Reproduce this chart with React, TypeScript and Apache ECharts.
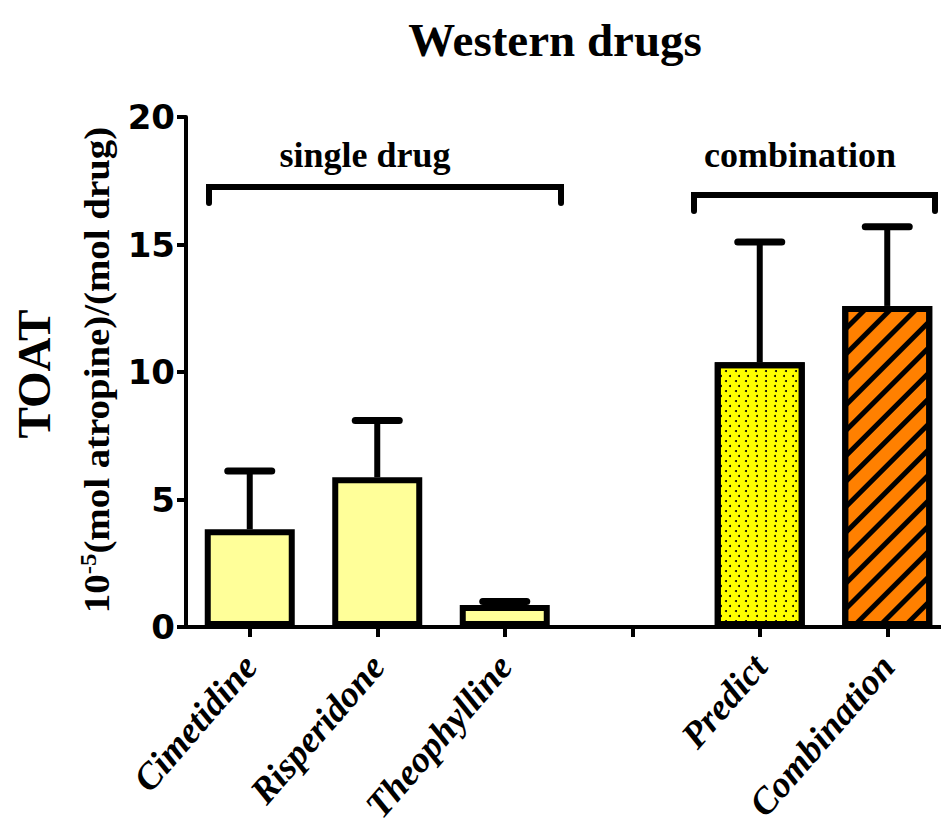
import React, { useEffect, useRef } from "react";
import * as echarts from "echarts";

const categories = ["Cimetidine", "Risperidone", "Theophylline", "", "Predict", "Combination"];
const means: (number | null)[] = [3.83, 5.87, 0.86, null, 10.38, 12.59];
const upperErr: (number | null)[] = [6.12, 8.1, 1.0, null, 15.1, 15.7];
const yTicks = [0, 5, 10, 15, 20];
const groupLabels = ["single drug", "combination"];
const titleText = "Western drugs";

const fills = ["#FFFF99", "#FFFF99", "#FFFF99", "#FFFFFF", "#FFFF00", "#FF8000"];

export default function App() {
  const ref = useRef<HTMLDivElement>(null);
  useEffect(() => {
    document.body.style.margin = "0";
    if (!ref.current) return;
    const chart = echarts.init(ref.current, null, { renderer: "svg" });

    const barData = means.map((v, i) => {
      if (v === null) return "-";
      const item: any = {
        value: v,
        itemStyle: { color: fills[i], borderColor: "#000", borderWidth: 6 },
      };
      if (i === 4) {
        item.itemStyle.decal = {
          symbol: "circle",
          symbolSize: 1,
          color: "#000",
          dashArrayX: [[2, 7], [0, 4.5, 2, 2.5]],
          dashArrayY: [2, 3],
        };
      }
      if (i === 5) {
        item.itemStyle.decal = {
          symbol: "rect",
          symbolSize: 1,
          color: "#000",
          dashArrayX: [1, 0],
          dashArrayY: [5, 13],
          rotation: -Math.PI / 4,
        };
      }
      return item;
    });

    const errData: number[][] = [];
    means.forEach((m, i) => {
      const u = upperErr[i];
      if (m !== null && u !== null) errData.push([i, m, u]);
    });

    const serif = "'Liberation Serif', 'Times New Roman', serif";
    const sans = "'DejaVu Sans', Arial, sans-serif";

    chart.setOption({
      animation: false,
      backgroundColor: "#fff",
      grid: { left: 186, top: 117, height: 510, width: 765, containLabel: false, outerBoundsMode: "none" },
      xAxis: {
        type: "category",
        data: categories,
        axisLine: { show: true, lineStyle: { color: "#000", width: 4 } },
        axisTick: { show: true, alignWithLabel: true, length: 10, lineStyle: { color: "#000", width: 4 } },
        axisLabel: {
          rotate: 49,
          margin: 33,
          padding: [34, 0, 0, 0],
          color: "#000",
          fontFamily: serif,
          fontStyle: "italic",
          fontWeight: "bold",
          fontSize: 37,
          interval: 0,
        },
        splitLine: { show: false },
      },
      yAxis: {
        type: "value",
        min: yTicks[0],
        max: yTicks[yTicks.length - 1],
        interval: 5,
        axisLine: { show: true, lineStyle: { color: "#000", width: 4 } },
        axisTick: { show: true, length: 9, lineStyle: { color: "#000", width: 4 } },
        axisLabel: { color: "#000", fontFamily: sans, fontWeight: "bold", fontSize: 34, margin: 11 },
        splitLine: { show: false },
      },
      series: [
        {
          type: "custom",
          z: 1,
          data: errData,
          encode: { x: 0, y: 1 },
          renderItem: (params: any, api: any) => {
            const i = api.value(0);
            const m = api.value(1);
            const u = api.value(2);
            const p0 = api.coord([i, m]);
            const p1 = api.coord([i, u]);
            return {
              type: "group",
              children: [
                {
                  type: "line",
                  shape: { x1: p0[0], y1: p0[1], x2: p1[0], y2: p1[1] },
                  style: { stroke: "#000", lineWidth: 6 },
                },
                {
                  type: "line",
                  shape: { x1: p1[0] - 22, y1: p1[1], x2: p1[0] + 22, y2: p1[1] },
                  style: { stroke: "#000", lineWidth: 7, lineCap: "round" },
                },
              ],
            };
          },
        },
        {
          type: "bar",
          z: 2,
          barWidth: 90,
          data: barData,
        },
      ],
      graphic: [
        {
          type: "text",
          x: 555,
          y: 40,
          style: {
            text: titleText,
            font: `bold 47px ${serif}`,
            fill: "#000",
            align: "center",
            verticalAlign: "middle",
          },
        },
        {
          type: "text",
          x: 365,
          y: 155,
          style: {
            text: groupLabels[0],
            font: `bold 36px ${serif}`,
            fill: "#000",
            align: "center",
            verticalAlign: "middle",
          },
        },
        {
          type: "text",
          x: 800,
          y: 155,
          style: {
            text: groupLabels[1],
            font: `bold 36px ${serif}`,
            fill: "#000",
            align: "center",
            verticalAlign: "middle",
          },
        },
        {
          type: "polyline",
          shape: { points: [[209, 203], [209, 187], [561, 187], [561, 203]] },
          style: { stroke: "#000", lineWidth: 6, fill: null, lineCap: "round" },
        },
        {
          type: "polyline",
          shape: { points: [[694, 211], [694, 195], [935, 195], [935, 211]] },
          style: { stroke: "#000", lineWidth: 6, fill: null, lineCap: "round" },
        },
        {
          type: "text",
          x: 34,
          y: 374,
          rotation: Math.PI / 2,
          style: {
            text: "TOAT",
            font: `bold 47px ${serif}`,
            fill: "#000",
            align: "center",
            verticalAlign: "middle",
          },
        },
        {
          type: "text",
          x: 97,
          y: 370,
          rotation: Math.PI / 2,
          scaleX: 1.08,
          style: {
            text: "{a|10}{b|-5}{a|(mol atropine)/(mol drug)}",
            align: "center",
            verticalAlign: "middle",
            rich: {
              a: { fontFamily: serif, fontWeight: "bold", fontSize: 36, lineHeight: 40, fill: "#000", color: "#000" },
              b: { fontFamily: serif, fontWeight: "bold", fontSize: 23, lineHeight: 40, verticalAlign: "top", fill: "#000", color: "#000" },
            },
          },
        },
      ],
    });
    return () => chart.dispose();
  }, []);
  return <div ref={ref} style={{ width: 941, height: 819 }} />;
}
